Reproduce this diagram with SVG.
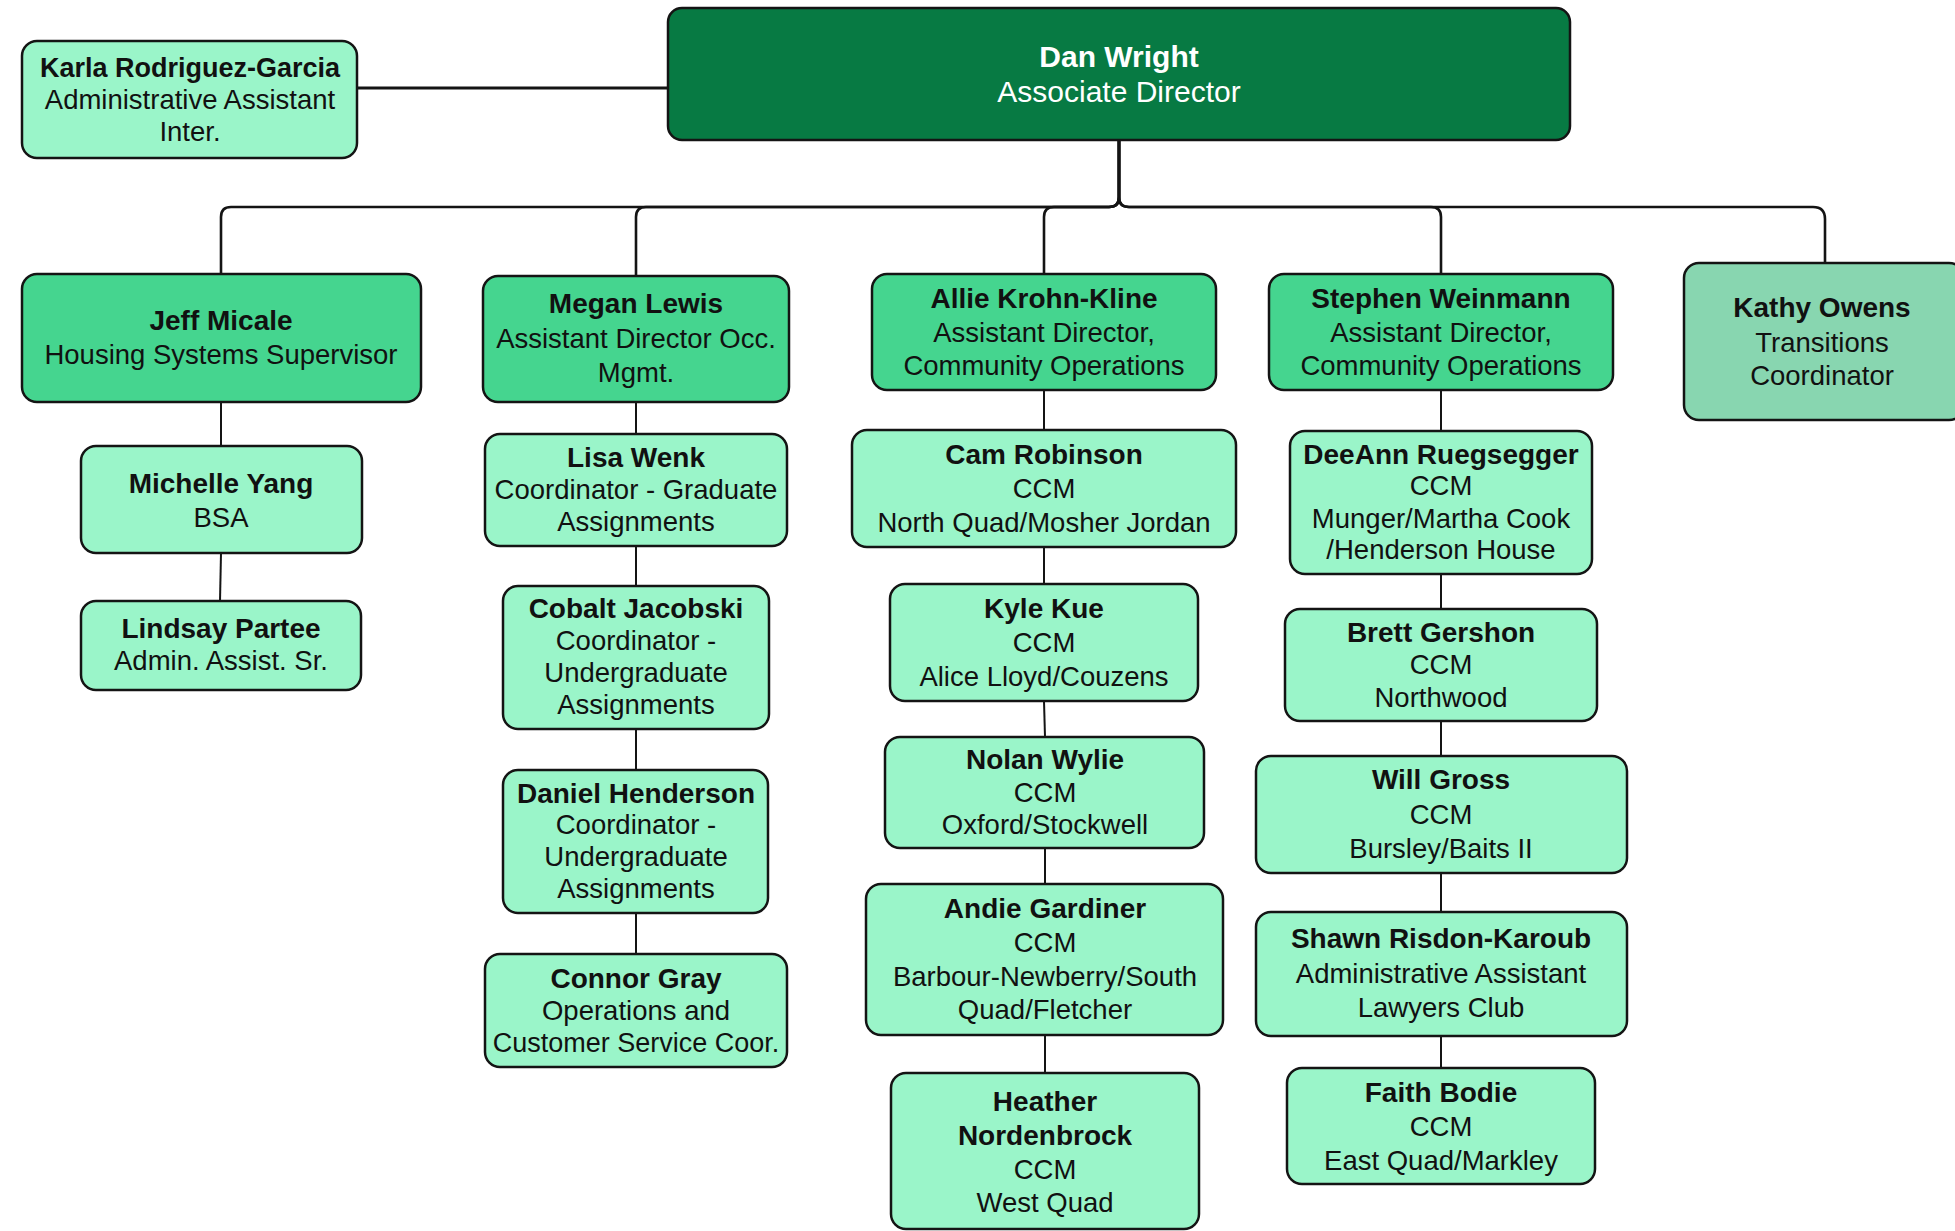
<svg xmlns="http://www.w3.org/2000/svg" width="1955" height="1231" viewBox="0 0 1955 1231">
<style>
  .bg { fill: #ffffff; }
  rect.node { stroke: #141414; stroke-width: 2.5; }
  .top { fill: #077A43; }
  .mid { fill: #45D58F; }
  .lite { fill: #9AF5C9; }
  .kathy { fill: #88D6B0; }
  text { font-family: "Liberation Sans", "Noto Sans", sans-serif; text-anchor: middle; fill: #111111; }
  .n { font-weight: 700; font-size: 28px; }
  .t { font-weight: 400; font-size: 27.5px; }
  .w { fill: #ffffff; }
  .big { font-size: 30px; }
  .s1 { font-size: 27px; }
  #connectors path { fill: none; stroke: #141414; stroke-width: 2; }
  #connectors .bus { stroke-width: 2.6; }
  #connectors .thick { stroke-width: 3; }
</style>
<rect class="bg" x="0" y="0" width="1955" height="1231"/>

<g id="connectors">
  <path class="thick" d="M357 88 H668"/>
  <path class="bus" d="M1119 140 V197 Q1119 207 1109 207 H231 Q221 207 221 217 V274"/>
  <path class="bus" d="M1119 140 V197 Q1119 207 1109 207 H646 Q636 207 636 217 V276"/>
  <path class="bus" d="M1119 140 V197 Q1119 207 1109 207 H1054 Q1044 207 1044 217 V274"/>
  <path class="bus" d="M1119 140 V197 Q1119 207 1129 207 H1431 Q1441 207 1441 217 V274"/>
  <path class="bus" d="M1119 140 V197 Q1119 207 1129 207 H1813 Q1825 207 1825 219 V263"/>
  <path d="M221 402 V446"/>
  <path d="M221 553 L220 601"/>
  <path d="M636 402 V434"/>
  <path d="M636 546 V586"/>
  <path d="M636 729 V770"/>
  <path d="M636 913 V954"/>
  <path d="M1044 390 V430"/>
  <path d="M1044 547 V584"/>
  <path d="M1044 701 L1045 737"/>
  <path d="M1045 848 V884"/>
  <path d="M1045 1035 V1073"/>
  <path d="M1441 390 V431"/>
  <path d="M1441 574 V609"/>
  <path d="M1441 721 V756"/>
  <path d="M1441 873 V912"/>
  <path d="M1441 1036 V1068"/>
</g>

<g id="karla">
  <rect class="node lite" x="22" y="41" width="335" height="117" rx="15"/>
  <text x="190" y="77" class="n s1">Karla Rodriguez-Garcia</text>
  <text x="190" y="109" class="t">Administrative Assistant</text>
  <text x="190" y="141" class="t">Inter.</text>
</g>

<g id="dan">
  <rect class="node top" x="668" y="8" width="902" height="132" rx="14"/>
  <text x="1119" y="67" class="n w big">Dan Wright</text>
  <text x="1119" y="102" class="t w big">Associate Director</text>
</g>

<g id="jeff">
  <rect class="node mid" x="22" y="274" width="399" height="128" rx="15"/>
  <text x="221" y="330" class="n">Jeff Micale</text>
  <text x="221" y="364" class="t">Housing Systems Supervisor</text>
</g>

<g id="megan">
  <rect class="node mid" x="483" y="276" width="306" height="126" rx="15"/>
  <text x="636" y="313" class="n">Megan Lewis</text>
  <text x="636" y="348" class="t">Assistant Director Occ.</text>
  <text x="636" y="382" class="t">Mgmt.</text>
</g>

<g id="allie">
  <rect class="node mid" x="872" y="274" width="344" height="116" rx="15"/>
  <text x="1044" y="308" class="n">Allie Krohn-Kline</text>
  <text x="1044" y="342" class="t">Assistant Director,</text>
  <text x="1044" y="375" class="t">Community Operations</text>
</g>

<g id="stephen">
  <rect class="node mid" x="1269" y="274" width="344" height="116" rx="15"/>
  <text x="1441" y="308" class="n">Stephen Weinmann</text>
  <text x="1441" y="342" class="t">Assistant Director,</text>
  <text x="1441" y="375" class="t">Community Operations</text>
</g>

<g id="kathy">
  <rect class="node kathy" x="1684" y="263" width="280" height="157" rx="15"/>
  <text x="1822" y="317" class="n">Kathy Owens</text>
  <text x="1822" y="352" class="t">Transitions</text>
  <text x="1822" y="385" class="t">Coordinator</text>
</g>

<g id="michelle">
  <rect class="node lite" x="81" y="446" width="281" height="107" rx="15"/>
  <text x="221" y="493" class="n">Michelle Yang</text>
  <text x="221" y="527" class="t">BSA</text>
</g>

<g id="lindsay">
  <rect class="node lite" x="81" y="601" width="280" height="89" rx="15"/>
  <text x="221" y="638" class="n">Lindsay Partee</text>
  <text x="221" y="670" class="t">Admin. Assist. Sr.</text>
</g>

<g id="lisa">
  <rect class="node lite" x="485" y="434" width="302" height="112" rx="15"/>
  <text x="636" y="467" class="n">Lisa Wenk</text>
  <text x="636" y="499" class="t">Coordinator - Graduate</text>
  <text x="636" y="531" class="t">Assignments</text>
</g>

<g id="cobalt">
  <rect class="node lite" x="503" y="586" width="266" height="143" rx="15"/>
  <text x="636" y="618" class="n">Cobalt Jacobski</text>
  <text x="636" y="650" class="t">Coordinator -</text>
  <text x="636" y="682" class="t">Undergraduate</text>
  <text x="636" y="714" class="t">Assignments</text>
</g>

<g id="daniel">
  <rect class="node lite" x="503" y="770" width="265" height="143" rx="15"/>
  <text x="636" y="803" class="n">Daniel Henderson</text>
  <text x="636" y="834" class="t">Coordinator -</text>
  <text x="636" y="866" class="t">Undergraduate</text>
  <text x="636" y="898" class="t">Assignments</text>
</g>

<g id="connor">
  <rect class="node lite" x="485" y="954" width="302" height="113" rx="15"/>
  <text x="636" y="988" class="n">Connor Gray</text>
  <text x="636" y="1020" class="t">Operations and</text>
  <text x="636" y="1052" class="t s1">Customer Service Coor.</text>
</g>

<g id="cam">
  <rect class="node lite" x="852" y="430" width="384" height="117" rx="15"/>
  <text x="1044" y="464" class="n">Cam Robinson</text>
  <text x="1044" y="498" class="t">CCM</text>
  <text x="1044" y="532" class="t">North Quad/Mosher Jordan</text>
</g>

<g id="kyle">
  <rect class="node lite" x="890" y="584" width="308" height="117" rx="15"/>
  <text x="1044" y="618" class="n">Kyle Kue</text>
  <text x="1044" y="652" class="t">CCM</text>
  <text x="1044" y="686" class="t">Alice Lloyd/Couzens</text>
</g>

<g id="nolan">
  <rect class="node lite" x="885" y="737" width="319" height="111" rx="15"/>
  <text x="1045" y="769" class="n">Nolan Wylie</text>
  <text x="1045" y="802" class="t">CCM</text>
  <text x="1045" y="834" class="t">Oxford/Stockwell</text>
</g>

<g id="andie">
  <rect class="node lite" x="866" y="884" width="357" height="151" rx="15"/>
  <text x="1045" y="918" class="n">Andie Gardiner</text>
  <text x="1045" y="952" class="t">CCM</text>
  <text x="1045" y="986" class="t">Barbour-Newberry/South</text>
  <text x="1045" y="1019" class="t">Quad/Fletcher</text>
</g>

<g id="heather">
  <rect class="node lite" x="891" y="1073" width="308" height="156" rx="15"/>
  <text x="1045" y="1111" class="n">Heather</text>
  <text x="1045" y="1145" class="n">Nordenbrock</text>
  <text x="1045" y="1179" class="t">CCM</text>
  <text x="1045" y="1212" class="t">West Quad</text>
</g>

<g id="deeann">
  <rect class="node lite" x="1290" y="431" width="302" height="143" rx="15"/>
  <text x="1441" y="464" class="n">DeeAnn Ruegsegger</text>
  <text x="1441" y="495" class="t">CCM</text>
  <text x="1441" y="528" class="t">Munger/Martha Cook</text>
  <text x="1441" y="559" class="t">/Henderson House</text>
</g>

<g id="brett">
  <rect class="node lite" x="1285" y="609" width="312" height="112" rx="15"/>
  <text x="1441" y="642" class="n">Brett Gershon</text>
  <text x="1441" y="674" class="t">CCM</text>
  <text x="1441" y="707" class="t">Northwood</text>
</g>

<g id="will">
  <rect class="node lite" x="1256" y="756" width="371" height="117" rx="15"/>
  <text x="1441" y="789" class="n">Will Gross</text>
  <text x="1441" y="824" class="t">CCM</text>
  <text x="1441" y="858" class="t">Bursley/Baits II</text>
</g>

<g id="shawn">
  <rect class="node lite" x="1256" y="912" width="371" height="124" rx="15"/>
  <text x="1441" y="948" class="n">Shawn Risdon-Karoub</text>
  <text x="1441" y="983" class="t">Administrative Assistant</text>
  <text x="1441" y="1017" class="t">Lawyers Club</text>
</g>

<g id="faith">
  <rect class="node lite" x="1287" y="1068" width="308" height="116" rx="15"/>
  <text x="1441" y="1102" class="n">Faith Bodie</text>
  <text x="1441" y="1136" class="t">CCM</text>
  <text x="1441" y="1170" class="t">East Quad/Markley</text>
</g>
</svg>
